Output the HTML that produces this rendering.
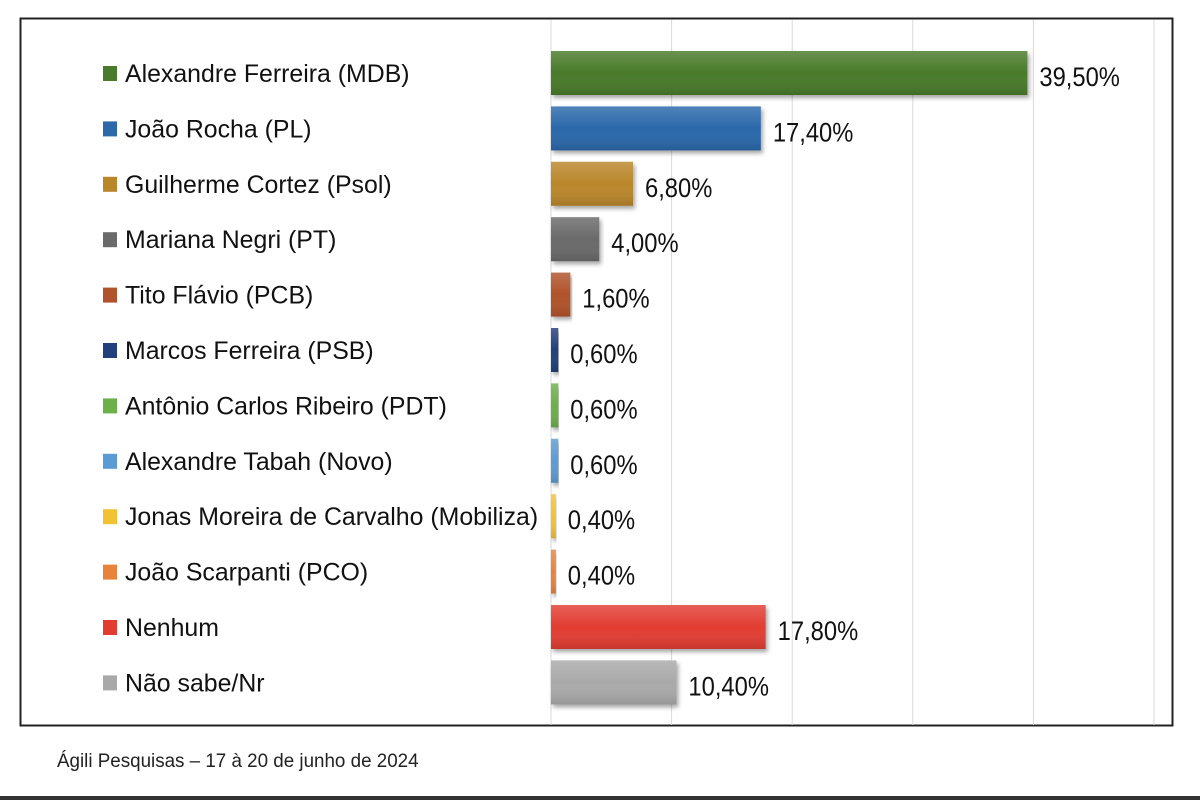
<!DOCTYPE html>
<html><head><meta charset="utf-8"><style>
body{margin:0;background:#fff;width:1200px;height:800px;overflow:hidden;font-family:"Liberation Sans",sans-serif}
</style></head><body>
<svg width="1200" height="800">
<defs>
<filter id="sh" x="-5%" y="-20%" width="115%" height="160%"><feDropShadow dx="2" dy="3" stdDeviation="2" flood-color="#000" flood-opacity="0.35"/></filter>
<linearGradient id="gl" x1="0" y1="0" x2="0" y2="1"><stop offset="0" stop-color="#fff" stop-opacity="0.18"/><stop offset="0.5" stop-color="#fff" stop-opacity="0"/><stop offset="1" stop-color="#000" stop-opacity="0.12"/></linearGradient>
</defs>
<rect x="20.5" y="18.5" width="1152" height="707" fill="#fff" stroke="#222" stroke-width="2"/>
<g id="grid"></g>
<g id="bars"></g>
<text x="57" y="767" font-size="19" fill="#222" transform="translate(57,0) scale(0.99,1) translate(-57,0)">Ágili Pesquisas – 17 à 20 de junho de 2024</text>
<rect x="0" y="796" width="1200" height="4" fill="#333"/>
</svg>
<script>
const categories=["Alexandre Ferreira (MDB)","João Rocha (PL)","Guilherme Cortez (Psol)","Mariana Negri (PT)","Tito Flávio (PCB)","Marcos Ferreira (PSB)","Antônio Carlos Ribeiro (PDT)","Alexandre Tabah (Novo)","Jonas Moreira de Carvalho (Mobiliza)","João Scarpanti (PCO)","Nenhum","Não sabe/Nr"];
const values=[39.5,17.4,6.8,4.0,1.6,0.6,0.6,0.6,0.4,0.4,17.8,10.4];
const valueLabels=["39,50%","17,40%","6,80%","4,00%","1,60%","0,60%","0,60%","0,60%","0,40%","0,40%","17,80%","10,40%"];
const colors=["#4a7a2c","#2c68aa","#b9862a","#6a6a6a","#b0532c","#213f7c","#6cb04a","#5b9bd5","#f2c232","#e8833c","#e23c30","#a9a9a9"];
const gridTicks=[0,10,20,30,40,50];
const NS="http://www.w3.org/2000/svg";
const x0=551,pxPer=12.06,y0=73,pitch=55.4,bh=44;
const xs=v=>x0+v*pxPer, ys=i=>y0+i*pitch;
const grid=document.getElementById('grid'),bars=document.getElementById('bars');
function mk(tag,a,p){const e=document.createElementNS(NS,tag);for(const k in a)e.setAttribute(k,a[k]);p.appendChild(e);return e;}
gridTicks.forEach(t=>{const l=mk('line',{x1:xs(t),x2:xs(t),y1:20,y2:725,stroke:'#d9d9d9','stroke-width':1},grid);

});
categories.forEach((c,i)=>{const y=ys(i);
const sq=mk('rect',{x:103,y:y-7,width:14,height:15,fill:colors[i]},bars);


const t=mk('text',{x:125,y:y+9,'font-size':25,fill:'#111',transform:`translate(125,0) scale(0.995,1) translate(-125,0)`},bars);t.textContent=c;


const w=Math.max(xs(values[i])-x0,4);
const b=mk('rect',{x:x0,y:y-bh/2,width:w,height:bh,fill:colors[i],filter:'url(#sh)'},bars);


const g=mk('rect',{x:x0,y:y-bh/2,width:w,height:bh,fill:'url(#gl)'},bars);


const lx=x0+w+12;
const v=mk('text',{x:lx,y:y+13,'font-size':27,fill:'#111',transform:`translate(${lx},0) scale(0.88,1) translate(${-lx},0)`},bars);v.textContent=valueLabels[i];


});
</script>
</body></html>
